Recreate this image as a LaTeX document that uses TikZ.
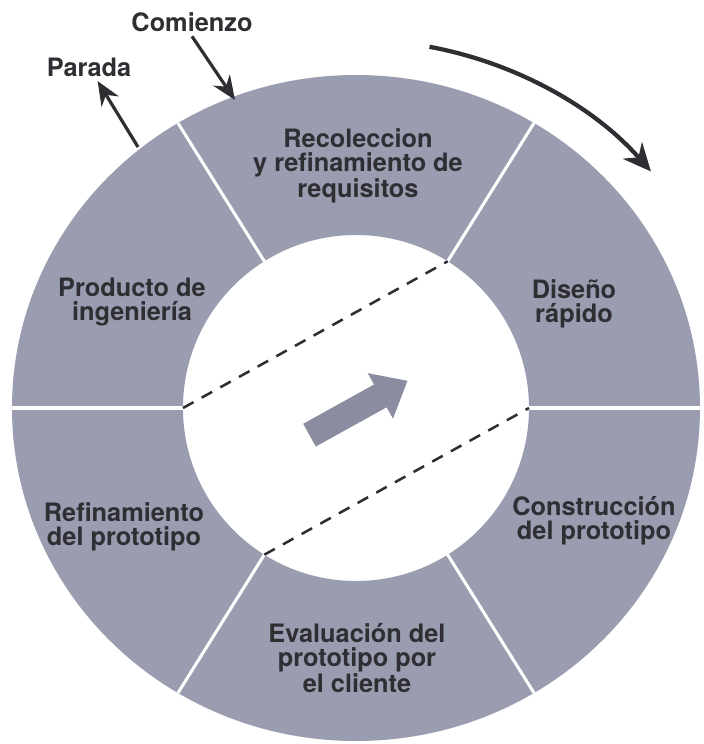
\documentclass[tikz,border=0pt]{standalone}
\usepackage{fontspec}
\setmainfont{TeX Gyre Heros}
\usepackage{tikz}
\usetikzlibrary{arrows.meta}
\definecolor{ringgray}{HTML}{9A9CB0}
\definecolor{arrowgray}{HTML}{8A8CA0}
\definecolor{inkgray}{HTML}{2E2E33}

\begin{document}
\begin{tikzpicture}[x=0.75pt, y=0.75pt,
    stage/.style={align=center, text=inkgray, font=\bfseries\fontsize{19}{18}\selectfont},
    tag/.style={text=inkgray, font=\bfseries\fontsize{19}{20}\selectfont},
    pointer/.style={draw=inkgray, line width=2.4pt, -{Stealth[length=18pt, width=15pt]}},
    dashline/.style={draw=inkgray, line width=1.9pt, dash pattern=on 9pt off 7pt}]
      \useasboundingbox (-356,-336) rectangle (348,408);

      % anillo
      \fill[ringgray, even odd rule] (0,0) ellipse [x radius=344, y radius=333] (0,0) circle (173);
      \begin{scope}
        \clip (0,0) ellipse [x radius=344, y radius=333];
        \foreach \a in {0,58,122,180,238,302}
          \draw[white, line width=2.3pt] (\a:172) -- (\a:360);
      \end{scope}

      % cuerdas punteadas
      \coordinate (inA) at (180:173);
      \coordinate (inB) at (58:173);
      \coordinate (inC) at (238:173);
      \coordinate (inD) at (0:173);
      \draw[dashline] (inA) -- (inB);
      \draw[dashline] (inC) -- (inD);

      % flecha central
      \fill[arrowgray, shift={(2.5,0)}, rotate=29]
        (-56,-13) -- (25,-13) -- (25,-26) -- (56,0) -- (25,26) -- (25,13) -- (-56,13) -- cycle;

      % sentido de giro
      \coordinate (giroA) at (73.5,361.2);
      \draw[inkgray, line width=3.2pt, -{Stealth[length=21pt, width=19pt]}]
        (giroA) arc [start angle=79, end angle=40, x radius=385, y radius=368];

      % etapas
      \node[stage] (recoleccion) at (2,242) {Recoleccion\\y refinamiento de\\requisitos};
      \node[stage] (diseno) at (218,104) {Diseño\\rápido};
      \node[stage] (construccion) at (238,-113) {Construcción\\del prototipo};
      \node[stage] (evaluacion) at (1,-250) {Evaluación del\\prototipo por\\el cliente};
      \node[stage] (refinamiento) at (-232,-119) {Refinamiento\\del prototipo};
      \node[stage] (producto) at (-224,106) {Producto de\\ingeniería};

      % comienzo y parada
      \node[tag] (comienzo) at (-164,386) {Comienzo};
      \node[tag] (parada) at (-267,341) {Parada};
      \coordinate (inicio) at (-121,308);
      \coordinate (fin) at (-218,261);
      \draw[pointer] (comienzo.south) -- (inicio);
      \draw[pointer] (fin) -- (parada);
\end{tikzpicture}
\end{document}
